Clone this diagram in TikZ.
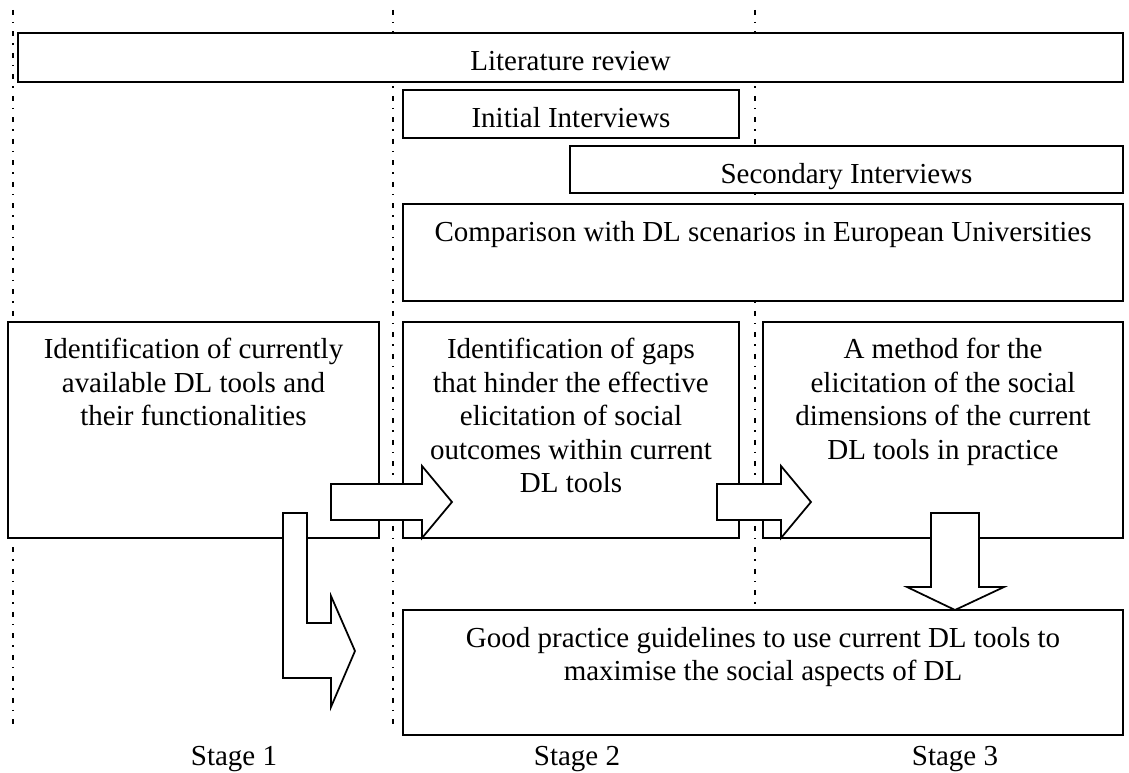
\documentclass[tikz,border=0pt]{standalone}
\usepackage{fontspec}
\setmainfont{Liberation Serif}
\usetikzlibrary{fit,positioning}

\begin{document}
\begin{tikzpicture}[
        x=0.02cm, y=-0.02cm,
        box/.style={draw, fill=white, line width=1pt, inner sep=0pt},
        txt/.style={align=center, inner sep=0pt, font=\fontsize{16.5}{19}\selectfont},
        stage/.style={anchor=base, inner sep=0pt, font=\fontsize{16.5}{19}\selectfont},
        sep/.style={line width=0.8pt, dash pattern=on 0.1cm off 0.14cm on 0.03cm off 0.16cm},
        blk/.style={draw, fill=white, line width=1pt, line join=miter},
    ]
    \useasboundingbox (0,0) rectangle (1129,773);

    % stage separators
    \foreach \sx in {13,393,755}
        \draw[sep] (\sx,10) -- (\sx,728);

    \node[box, fit={(18,33) (1123,82)}](litrev){};
    \node[box, fit={(403,90) (739,138)}](initint){};
    \node[box, fit={(570,146) (1123,193)}](secint){};
    \node[box, fit={(403,204) (1123,301)}](compare){};
    \node[box, fit={(8,322) (379,538)}](ident){};
    \node[box, fit={(403,322) (739,538)}](gaps){};
    \node[box, fit={(763,322) (1123,538)}](method){};
    \node[box, fit={(403,610) (1123,735)}](guide){};

    \node[txt, below=0.38cm of litrev.north](litrevtext){Literature review};
    \node[txt, below=0.36cm of initint.north](initinttext){Initial Interviews};
    \node[txt, below=0.36cm of secint.north](secinttext){Secondary Interviews};
    \node[txt, below=0.36cm of compare.north](comparetext){Comparison with DL scenarios in European Universities};
    \node[txt, below=0.34cm of ident.north](identtext){Identification of currently\\available DL tools and\\their functionalities};
    \node[txt, below=0.34cm of gaps.north](gapstext){Identification of gaps\\that hinder the effective\\elicitation of social\\outcomes within current\\DL tools};
    \node[txt, below=0.34cm of method.north](methodtext){A method for the\\elicitation of the social\\dimensions of the current\\DL tools in practice};
    \node[txt, below=0.36cm of guide.north](guidetext){Good practice guidelines to use current DL tools to\\maximise the social aspects of DL};

    % block arrows
    \draw[blk] (331,484) -- (422,484) -- (422,466) -- (452,502) -- (422,538) -- (422,520) -- (331,520) -- cycle;
    \draw[blk] (717,484) -- (781,484) -- (781,466) -- (811,502) -- (781,538) -- (781,520) -- (717,520) -- cycle;
    \draw[blk] (931,513) -- (979,513) -- (979,587) -- (1004,587) -- (955,610) -- (907,587) -- (931,587) -- cycle;
    \draw[blk] (283,513) -- (307,513) -- (307,623) -- (331,623) -- (331,596) -- (355,651) -- (331,707) -- (331,678) -- (283,678) -- cycle;

    \node[stage](stage1) at (234,765) {Stage 1};
    \node[stage](stage2) at (577,765) {Stage 2};
    \node[stage](stage3) at (955,765) {Stage 3};
\end{tikzpicture}
\end{document}
